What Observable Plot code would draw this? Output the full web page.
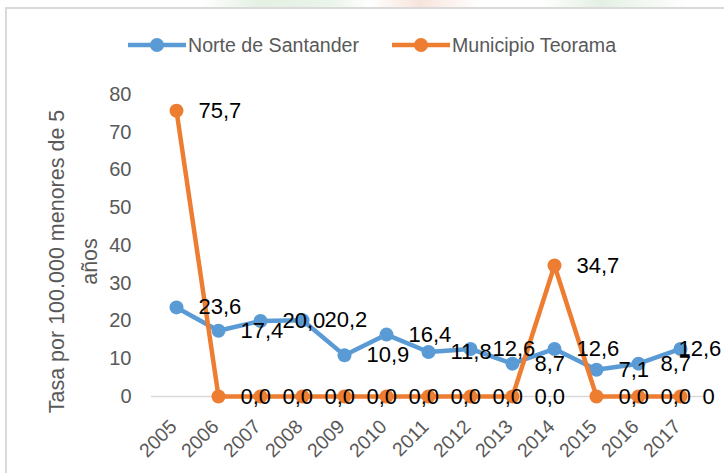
<!DOCTYPE html>
<html><head><meta charset="utf-8">
<script src="https://cdn.jsdelivr.net/npm/d3@7"></script>
<script src="https://cdn.jsdelivr.net/npm/@observablehq/plot@0.6"></script>
<style>
body{margin:0;width:724px;height:473px;overflow:hidden;background:#fff;position:relative;font-family:"Liberation Sans",Arial,sans-serif;}
#strip{position:absolute;left:0;top:0;width:724px;height:7px;background:linear-gradient(90deg,#fff 0,#fff 200px,#e4f0e4 260px,#eaf4ea 330px,#fff 370px,#f7e4dc 420px,#fff 480px,#fff 540px,#e4f0e4 600px,#fff 690px);}
#frame{position:absolute;left:5px;top:7px;width:740px;height:480px;border-left:2px solid #d9d9d9;border-top:2px solid #d9d9d9;box-sizing:border-box;}
#legend{position:absolute;top:0;left:0;width:724px;height:70px;}
.item{position:absolute;top:31px;height:28px;display:flex;align-items:center;font-size:19.6px;color:#595959;white-space:nowrap;}
.item svg{margin-right:2px;}
#chart{position:absolute;top:70px;left:0;}
</style></head>
<body>
<div id="strip"></div>
<div id="frame"></div>
<div id="legend"></div>
<div id="chart"></div>
<script>
const years = [2005,2006,2007,2008,2009,2010,2011,2012,2013,2014,2015,2016,2017];
const norte = [23.6,17.4,20.0,20.2,10.9,16.4,11.8,12.6,8.7,12.6,7.1,8.7,12.6];
const teorama = [75.7,0,0,0,0,0,0,0,0,34.7,0,0,0];
const teoramaLabels = ["75,7","0,0","0,0","0,0","0,0","0,0","0,0","0,0","0,0","34,7","0,0","0,0","0"];
const seriesNames = ["Norte de Santander","Municipio Teorama"];
const seriesColors = ["#5B9BD5","#ED7D31"];
const yTicks = [0,10,20,30,40,50,60,70,80];
const yTitle = "Tasa por 100.000 menores de 5\naños";

const fmt = v => d3.format(".1f")(v).replace(".", ",");
const norteData = years.map((year,i)=>({year, value:norte[i], label:fmt(norte[i]), last:i===years.length-1}));
const teoData = years.map((year,i)=>({year, value:teorama[i], label:teoramaLabels[i]}));

// legend
const legend = document.getElementById("legend");
const lefts = [128, 392];
seriesNames.forEach((name,i)=>{
  const div = document.createElement("div");
  div.className = "item";
  div.style.left = lefts[i] + "px";
  div.innerHTML = `<svg width="58" height="16"><line x1="0" x2="58" y1="8" y2="8" stroke="${seriesColors[i]}" stroke-width="4.5"/><circle cx="29" cy="8" r="7" fill="${seriesColors[i]}"/></svg><span>${name}</span>`;
  legend.appendChild(div);
});

const font = '"Liberation Sans",Arial,sans-serif';
const chart = Plot.plot({
  width: 724, height: 403,
  marginLeft: 151, marginRight: 20, marginTop: 24, marginBottom: 77,
  style: {fontFamily: font, fontSize: "20px", color: "#595959", background: "transparent"},
  x: {type: "point", domain: years, padding: 0.5},
  y: {domain: [0, 80]},
  marks: [
    Plot.ruleY([0], {stroke: "#d9d9d9", strokeWidth: 1.5}),
    Plot.axisY({ticks: yTicks, tickSize: 0, tickPadding: 20, label: null, fontSize: 20}),
    Plot.axisX({tickSize: 0, tickRotate: -45, tickPadding: 23, label: null, fontSize: 19.5, dx: -3, dy: 4, tickFormat: d => String(d)}),
    Plot.line(norteData, {x: "year", y: "value", stroke: seriesColors[0], strokeWidth: 4.5}),
    Plot.dot(norteData, {x: "year", y: "value", r: 7, fill: seriesColors[0]}),
    Plot.line(teoData, {x: "year", y: "value", stroke: seriesColors[1], strokeWidth: 4.5}),
    Plot.dot(teoData, {x: "year", y: "value", r: 7, fill: seriesColors[1]}),
    Plot.text(norteData.filter(d=>!d.last), {x: "year", y: "value", text: "label", textAnchor: "start", dx: 22, fontSize: 22, fill: "#000"}),
    Plot.text(norteData.filter(d=>d.last), {x: "year", y: "value", text: "label", textAnchor: "start", dx: -2, fontSize: 22, fill: "#000"}),
    Plot.text(teoData, {x: "year", y: "value", text: "label", textAnchor: "start", dx: 22, fontSize: 22, fill: "#000"}),
    Plot.text([yTitle], {frameAnchor: "left", textAnchor: "middle", rotate: -90, dx: -82, dy: 16, fontSize: 21.5, fill: "#595959", lineHeight: 1.55})
  ]
});
document.getElementById("chart").appendChild(chart);
</script>
</body></html>
